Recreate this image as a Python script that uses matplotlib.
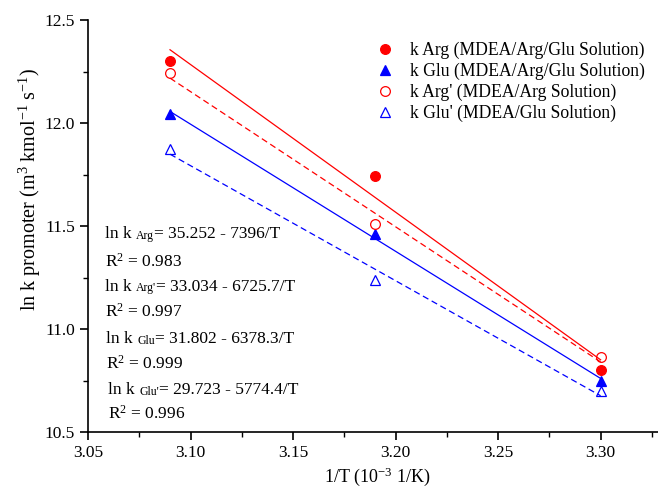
import numpy as np
import matplotlib
matplotlib.use("Agg")
import matplotlib.pyplot as plt
from matplotlib.ticker import MultipleLocator, FormatStrFormatter

plt.rcParams['font.family'] = ['Liberation Serif', 'DejaVu Serif']
plt.rcParams['mathtext.fontset'] = 'custom'
plt.rcParams['mathtext.rm'] = 'Liberation Serif'
plt.rcParams['mathtext.it'] = 'Liberation Serif:italic'

x = [3.09, 3.19, 3.30]
k_arg = [12.30, 11.745, 10.80]
k_glu = [12.045, 11.46, 10.75]
k_arg_p = [12.245, 11.51, 10.865]
k_glu_p = [11.875, 11.24, 10.70]

labels = ["k Arg (MDEA/Arg/Glu Solution)", "k Glu (MDEA/Arg/Glu Solution)",
          "k Arg' (MDEA/Arg Solution)", "k Glu' (MDEA/Glu Solution)"]

eq_subs = ["Arg", "Arg'", "Glu", "Glu'"]
eq_rhs = ["= 35.252 - 7396/T", "= 33.034 - 6725.7/T",
          "= 31.802 - 6378.3/T", "= 29.723 - 5774.4/T"]
eq_r2 = ["0.983", "0.997", "0.999", "0.996"]

W, H = 658, 494
fig = plt.figure(figsize=(6.58, 4.94), dpi=100)
ax = fig.add_axes([88/W, 1 - 432/H, 570/W, 412/H])

series = [
    (k_arg, 'red', 'o', True, '-'),
    (k_glu, 'blue', '^', True, '-'),
    (k_arg_p, 'red', 'o', False, '--'),
    (k_glu_p, 'blue', '^', False, '--'),
]
xa = np.array(x)
for (ys, c, m, filled, ls), lab in zip(series, labels):
    ax.plot(x, ys, linestyle='none', marker=m, markersize=7,
            markerfacecolor=c if filled else 'none', markeredgecolor=c,
            markeredgewidth=0.9, label=lab)
    p = np.polyfit(xa, np.array(ys), 1)
    xf = np.array([x[0], x[-1]])
    line, = ax.plot(xf, np.polyval(p, xf), color=c, linestyle=ls, linewidth=0.9)
    if ls == '--':
        line.set_dashes([5, 3])

ax.set_xlim(3.05, 3.328)
ax.set_ylim(10.5, 12.5)
ax.xaxis.set_major_locator(MultipleLocator(0.05))
ax.xaxis.set_minor_locator(MultipleLocator(0.025))
ax.yaxis.set_major_locator(MultipleLocator(0.5))
ax.yaxis.set_minor_locator(MultipleLocator(0.25))
ax.xaxis.set_major_formatter(FormatStrFormatter('%.2f'))
ax.yaxis.set_major_formatter(FormatStrFormatter('%.1f'))
ax.spines['top'].set_visible(False)
ax.spines['right'].set_visible(False)
for s in ['left', 'bottom']:
    ax.spines[s].set_linewidth(1.2)
ax.tick_params(which='major', direction='out', length=6, width=1.2, labelsize=12.5)
ax.tick_params(which='minor', direction='out', length=3.5, width=1.0)

ax.set_xlabel(r"1/T (10$^{-3}$ 1/K)", fontsize=13)
ax.set_ylabel(r"ln k promoter (m$^3$ kmol$^{-1}$ s$^{-1}$)", fontsize=14.5)
ax.xaxis.set_label_coords((377 - 88) / 570, -(477 - 432) / 412)
ax.yaxis.set_label_coords((30 - 88) / 570, (432 - 190) / 412)
ax.yaxis.label.set_va('center')
ax.xaxis.label.set_va('center')

leg = ax.legend(loc='upper left', bbox_to_anchor=(0.49, 0.965), frameon=False,
                fontsize=12.7, handletextpad=0.8, labelspacing=0.22, handlelength=1.2,
                borderaxespad=0)

renderer = fig.canvas.get_renderer()
eq_base = [238, 291, 343, 394]
r2_base = [267, 317, 369, 419]
eq_x = [105, 105, 106, 108]
for sub, rhs, r2, yb, yr, xp in zip(eq_subs, eq_rhs, eq_r2, eq_base, r2_base, eq_x):
    t1 = fig.text(xp / W, 1 - yb / H, "ln k ", fontsize=12.5, va='baseline', ha='left')
    x1 = t1.get_window_extent(renderer).x1
    t2 = fig.text(x1 / W, 1 - (yb + 0.5) / H, sub, fontsize=8.5, va='baseline', ha='left')
    x2 = t2.get_window_extent(renderer).x1
    fig.text(x2 / W, 1 - yb / H, rhs, fontsize=12.5, va='baseline', ha='left')
    fig.text(xp / W, 1 - yr / H, r"R$^2$ = " + r2, fontsize=12.5, va='baseline', ha='left')

fig.savefig("out.png", dpi=100)
